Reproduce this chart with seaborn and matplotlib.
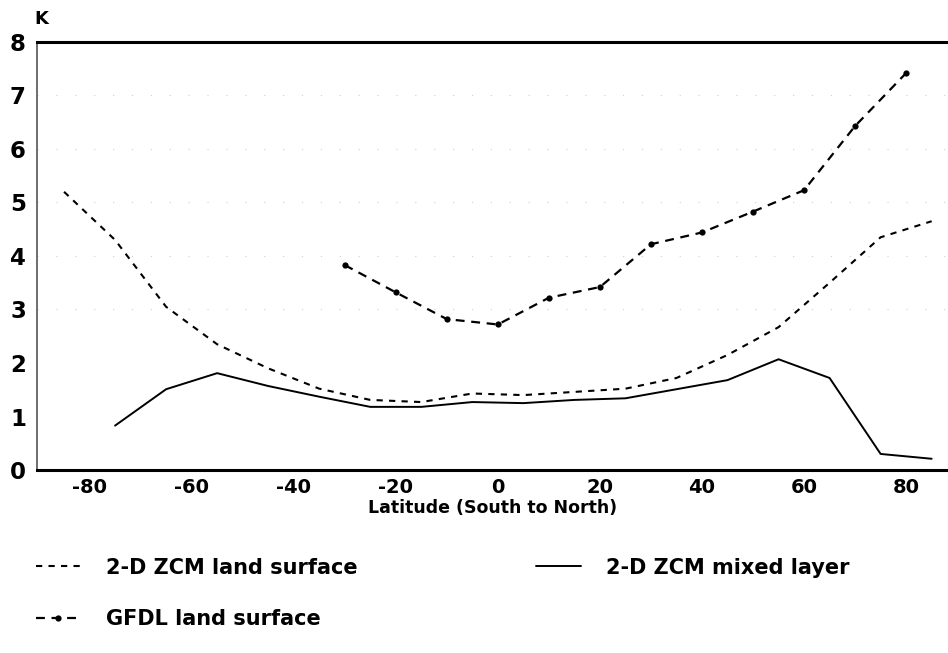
import pandas as pd
import seaborn as sns
import matplotlib.pyplot as plt

# latitude grid of the 2-D ZCM runs
lat_zcm = [-85, -75, -65, -55, -45, -35, -25, -15, -5, 5, 15, 25, 35, 45, 55, 65, 75, 85]
land_zcm = [5.2, 4.3, 3.05, 2.35, 1.9, 1.52, 1.31, 1.27, 1.43, 1.40, 1.46, 1.52, 1.72, 2.15, 2.67, 3.5, 4.35, 4.65]

lat_mixed = [-75, -65, -55, -45, -35, -25, -15, -5, 5, 15, 25, 35, 45, 55, 65, 75, 85]
mixed_zcm = [0.83, 1.51, 1.81, 1.57, 1.37, 1.18, 1.18, 1.27, 1.25, 1.31, 1.34, 1.51, 1.68, 2.07, 1.72, 0.30, 0.21]

lat_gfdl = [-30, -20, -10, 0, 10, 20, 30, 40, 50, 60, 70, 80]
land_gfdl = [3.83, 3.32, 2.82, 2.72, 3.22, 3.42, 4.22, 4.44, 4.83, 5.23, 6.43, 7.42]

xticks = [-80, -60, -40, -20, 0, 20, 40, 60, 80]
yticks = [0, 1, 2, 3, 4, 5, 6, 7, 8]

sns.set_style("white")
plt.rcParams['font.family'] = ['DejaVu Sans']
plt.rcParams['font.weight'] = 'bold'
for k in ['text.color', 'axes.labelcolor', 'xtick.color', 'ytick.color']:
    plt.rcParams[k] = 'black'

fig = plt.figure(figsize=(9.48, 6.53), dpi=100)
ax = fig.add_axes([37 / 948, 183 / 653, 1 - 37 / 948, 428 / 653])

df_land = pd.DataFrame({'lat': lat_zcm, 'dT': land_zcm})
df_mixed = pd.DataFrame({'lat': lat_mixed, 'dT': mixed_zcm})
df_gfdl = pd.DataFrame({'lat': lat_gfdl, 'dT': land_gfdl})

# faint scan-like grid
for y in [3, 4, 5, 6, 7]:
    ax.axhline(y, color='#d0d0d0', lw=0.8, ls=(0, (1, 16)), zorder=0)

sns.lineplot(data=df_land, x='lat', y='dT', ax=ax, color='black', lw=1.5,
             linestyle=(0, (3, 3)), label='2-D ZCM land surface')
sns.lineplot(data=df_gfdl, x='lat', y='dT', ax=ax, color='black', lw=1.6,
             linestyle=(0, (4, 3)), marker='o', markersize=4.5, markeredgewidth=0,
             label='GFDL land surface')
sns.lineplot(data=df_mixed, x='lat', y='dT', ax=ax, color='black', lw=1.4,
             label='2-D ZCM mixed layer')

ax.set_xlim(-90.3, 88.2)
ax.set_ylim(0, 8)
ax.set_xticks(xticks)
ax.set_yticks(yticks)
ax.set_xticklabels([str(v) for v in xticks], fontsize=14, fontweight='bold')
ax.set_yticklabels([str(v) for v in yticks], fontsize=16.5, fontweight='bold')
ax.tick_params(axis='x', direction='in', length=10, width=1.2, pad=6)
ax.tick_params(axis='y', direction='in', length=8, width=1.2, pad=8)

ax.set_xlabel('Latitude (South to North)', fontsize=12.5, fontweight='bold', labelpad=1)
ax.set_ylabel('')

ax.spines['right'].set_visible(False)
ax.spines['top'].set_linewidth(2.2)
ax.spines['top'].set_color('black')
ax.spines['bottom'].set_linewidth(2.2)
ax.spines['bottom'].set_color('black')
ax.spines['left'].set_linewidth(1.2)
ax.spines['left'].set_color('#555555')

fig.text(41 / 948, 1 - 19 / 653, 'K', fontsize=13, fontweight='bold', ha='center', va='center')

handles, labels = ax.get_legend_handles_labels()
ax.get_legend().remove()
leg = fig.legend(handles, labels,
                 loc='upper left', bbox_to_anchor=(17 / 948, 1 - 539 / 653), ncol=2,
                 frameon=False, fontsize=15, handlelength=2.15, handletextpad=1.2,
                 columnspacing=8.6, labelspacing=1.52)
for t in leg.get_texts():
    t.set_fontweight('bold')

fig.savefig('out.png', dpi=100)
